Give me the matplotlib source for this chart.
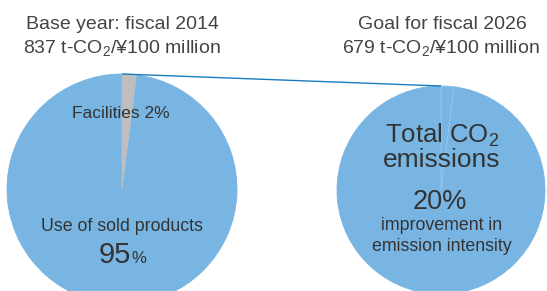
import matplotlib
matplotlib.use("Agg")
import matplotlib.pyplot as plt

plt.rcParams['font.family'] = ['Liberation Sans', 'DejaVu Sans']
plt.rcParams['mathtext.fontset'] = 'custom'
plt.rcParams['mathtext.rm'] = 'Liberation Sans'
plt.rcParams['mathtext.default'] = 'rm'

# Data
base_labels = ["Facilities", "Use of sold products", "Other"]
base_values = [2, 95, 3]
goal_values = [2, 95, 3]
base_title = ["Base year: fiscal 2014", "837 t-CO$_2$/¥100 million"]
goal_title = ["Goal for fiscal 2026", "679 t-CO$_2$/¥100 million"]
improvement_pct = 20

W, H = 547, 291
fig = plt.figure(figsize=(W / 100, H / 100), dpi=100)
ax = fig.add_axes([0, 0, 1, 1])

blue = "#78b5e3"
grey = "#bcbec0"
txt = "#333333"

def Y(y):
    return H - y

lc, lr = (122, Y(189)), 115
rc, rr = (441, Y(190)), 104

wl, _ = ax.pie(base_values, colors=[grey, blue, blue], startangle=90, counterclock=False,
               center=lc, radius=lr, frame=True)
for w, c in zip(wl, [grey, blue, blue]):
    w.set_edgecolor(c)
    w.set_linewidth(0.6)
wl[0].set_zorder(3)

wr, _ = ax.pie(goal_values, colors=[blue, blue, blue], startangle=90, counterclock=False,
               center=rc, radius=rr, frame=True)
for w in wr:
    w.set_edgecolor(blue)
    w.set_linewidth(0.6)
wr[0].set_edgecolor("#90c4ea")
wr[0].set_linewidth(0.8)
wr[0].set_zorder(3)

# connector line
ax.plot([lc[0], rc[0]], [lc[1] + lr, rc[1] + rr], color="#1a7bbf", lw=1.0,
        solid_capstyle="butt", zorder=5)

tc = "#444444"
# titles
ax.text(122, Y(29), base_title[0], ha="center", va="baseline", fontsize=14, color=tc)
ax.text(122, Y(53), base_title[1], ha="center", va="baseline", fontsize=14, color=tc)
ax.text(442, Y(29), goal_title[0], ha="center", va="baseline", fontsize=14, color=tc)
ax.text(441, Y(53), goal_title[1], ha="center", va="baseline", fontsize=14, color=tc)

# left pie labels
ax.text(121, Y(118), f"{base_labels[0]} {base_values[0]}%", ha="center", va="baseline",
        fontsize=12.5, color=txt)
ax.text(122, Y(231), base_labels[1], ha="center", va="baseline", fontsize=12.8, color=txt)
ax.text(130.5, Y(263), f"{base_values[1]}", ha="right", va="baseline", fontsize=21, color=txt)
ax.text(131, Y(263), "%", ha="left", va="baseline", fontsize=12, color=txt)

# right pie labels
ax.text(442, Y(143), "Total CO$_2$", ha="center", va="baseline", fontsize=18.5, color=txt)
ax.text(442, Y(167), "emissions", ha="center", va="baseline", fontsize=19, color=txt)
ax.text(440, Y(209), f"{improvement_pct}%", ha="center", va="baseline", fontsize=19.5, color=txt)
ax.text(442, Y(230), "improvement in", ha="center", va="baseline", fontsize=12.8, color=txt)
ax.text(442, Y(251), "emission intensity", ha="center", va="baseline", fontsize=12.8, color=txt)

ax.set_xlim(0, W)
ax.set_ylim(0, H)
ax.set_aspect("auto")
ax.axis("off")

fig.savefig("out.png", dpi=100)
